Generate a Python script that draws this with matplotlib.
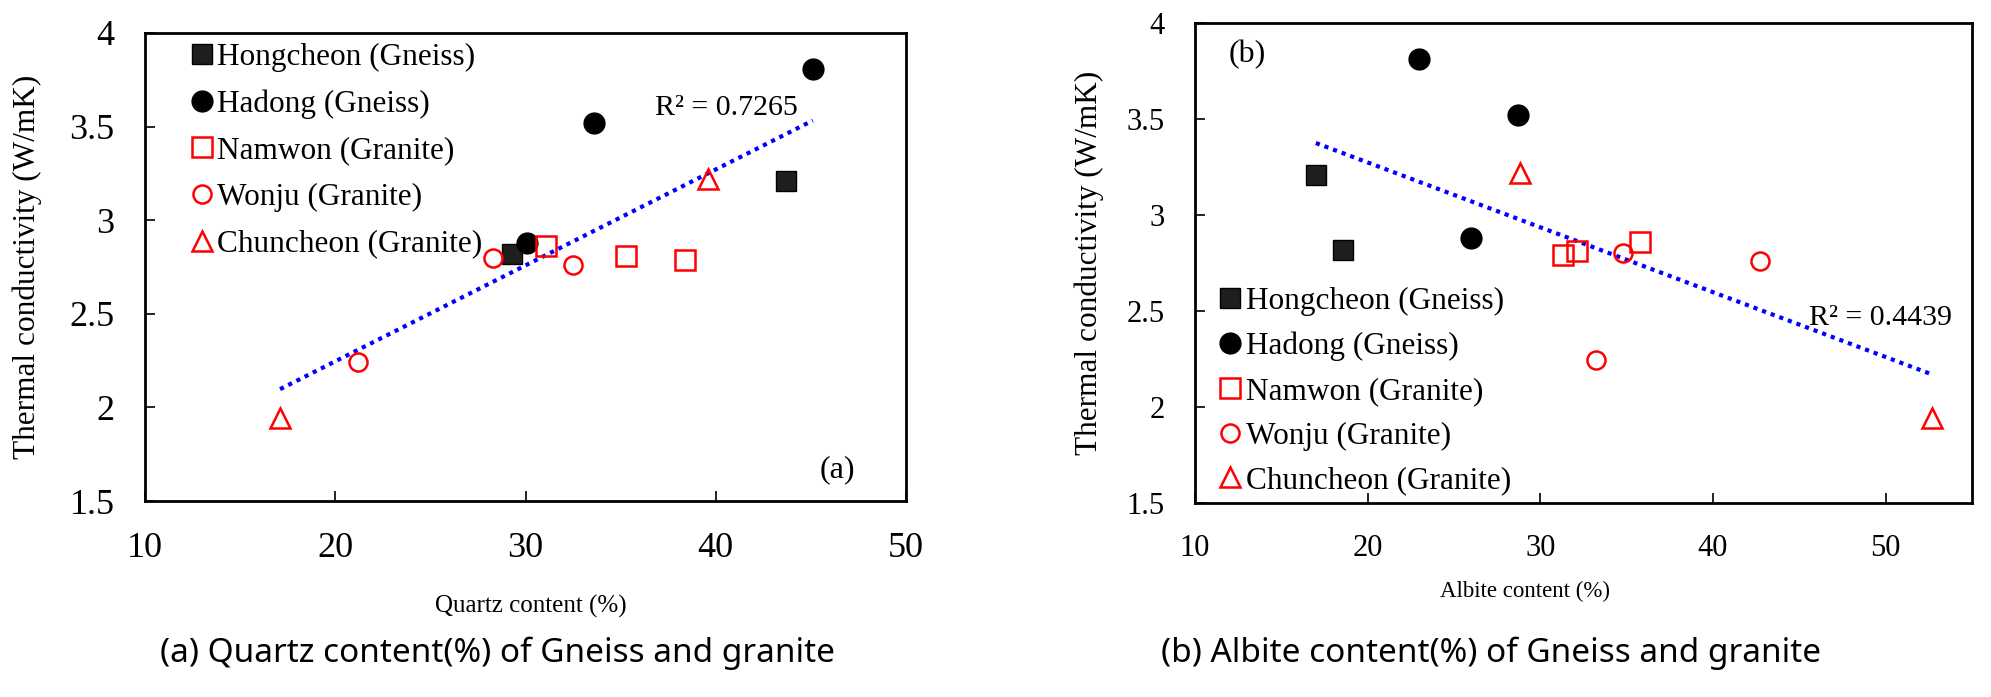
import numpy as np
import matplotlib
matplotlib.use('Agg')
import matplotlib.pyplot as plt
from matplotlib.ticker import FormatStrFormatter

plt.rcParams['font.family'] = 'Liberation Serif'

# thermal conductivity (W/mK) per rock group
hong_k = [2.82, 3.21]
hadong_k = [3.81, 3.52, 2.88]
namwon_k = [2.86, 2.81, 2.79]
wonju_k = [2.245, 2.80, 2.76]
chun_k = [1.945, 3.22]

# quartz content (%)
hong_qz = [29.3, 43.7]
hadong_qz = [45.1, 33.6, 30.1]
namwon_qz = [31.1, 35.3, 38.4]
wonju_qz = [21.2, 28.3, 32.5]
chun_qz = [17.1, 39.6]

# albite content (%)
hong_ab = [18.6, 17.0]
hadong_ab = [23.0, 28.7, 26.0]
namwon_ab = [35.8, 32.1, 31.3]
wonju_ab = [33.2, 34.8, 42.7]
chun_ab = [52.7, 28.8]

labels = ['Hongcheon (Gneiss)', 'Hadong (Gneiss)', 'Namwon (Granite)',
          'Wonju (Granite)', 'Chuncheon (Granite)']
r2_text = ['R² = 0.7265', 'R² = 0.4439']

styles = [
    dict(marker='s', ms=14, mfc='#1e1e1e', mec='black', mew=1),
    dict(marker='o', ms=15, mfc='black', mec='black', mew=1),
    dict(marker='s', ms=14, mfc='none', mec='red', mew=1.8),
    dict(marker='o', ms=13, mfc='none', mec='red', mew=1.8),
    dict(marker='^', ms=14, mfc='none', mec='red', mew=1.8),
]

W, H = 1991, 697
fig = plt.figure(figsize=(W / 100, H / 100), dpi=100)


def px_axes(x0, y0, x1, y1):
    return fig.add_axes([x0 / W, 1 - y1 / H, (x1 - x0) / W, (y1 - y0) / H])


def draw_panel(ax, xs, xlim, tick_fs, legend_anchor, legend_sp, xlabel, xlabel_fs, xlabel_pos,
               ylabel_x, r2, r2_pos, tag, tag_pos):
    ys = [hong_k, hadong_k, namwon_k, wonju_k, chun_k]
    for x, y, lab, st in zip(xs, ys, labels, styles):
        ax.plot(x, y, linestyle='none', label=lab, **st)

    # linear trend line over all samples
    allx = np.concatenate(xs)
    ally = np.concatenate(ys)
    a, b = np.polyfit(allx, ally, 1)
    xx = np.array([allx.min(), allx.max()])
    ax.plot(xx, a * xx + b, color='blue', linestyle=(0, (1, 1.2)), lw=3, zorder=1)

    ax.set_xlim(*xlim)
    ax.set_ylim(1.5, 4)
    ax.set_xticks([10, 20, 30, 40, 50])
    ax.set_yticks(np.arange(1.5, 4.01, 0.5))
    ax.yaxis.set_major_formatter(FormatStrFormatter('%g'))
    ax.tick_params(direction='in', length=7, width=1.2, labelsize=tick_fs, pad=22)
    for s in ax.spines.values():
        s.set_linewidth(2)

    ax.set_xlabel(xlabel, fontsize=xlabel_fs)
    ax.xaxis.set_label_coords(*xlabel_pos)
    ax.set_ylabel('Thermal conductivity (W/mK)', fontsize=22.5)
    ax.yaxis.set_label_coords(ylabel_x, 0.5)

    ax.text(*r2_pos, r2, transform=ax.transAxes, fontsize=21.5, ha='left', va='center')
    ax.text(*tag_pos, tag, transform=ax.transAxes, fontsize=23, ha='left', va='center')

    ax.legend(loc='upper left', bbox_to_anchor=legend_anchor, frameon=False, fontsize=22.5,
              handlelength=0.7, handletextpad=0.15, labelspacing=legend_sp,
              borderpad=0, borderaxespad=0, numpoints=1)


ax1 = px_axes(145, 33, 906, 501)
draw_panel(ax1, [hong_qz, hadong_qz, namwon_qz, wonju_qz, chun_qz], (10, 50), 26,
           (0.06, 0.979), 0.56, 'Quartz content (%)', 18, (0.507, -0.2), -0.135,
           r2_text[0], (0.67, 0.84), '(a)', (0.887, 0.066))

ax2 = px_axes(1195, 23, 1972, 503)
draw_panel(ax2, [hong_ab, hadong_ab, namwon_ab, wonju_ab, chun_ab], (10, 55), 22,
           (0.031, 0.45), 0.5, 'Albite content (%)', 16.5, (0.425, -0.163), -0.117,
           r2_text[1], (0.79, 0.385), '(b)', (0.043, 0.935))

fig.text(497 / W, 1 - 653 / H, '(a) Quartz content(%) of Gneiss and granite',
         fontsize=24, family='Noto Sans', ha='center', va='center')
fig.text(1491 / W, 1 - 653 / H, '(b) Albite content(%) of Gneiss and granite',
         fontsize=24, family='Noto Sans', ha='center', va='center')

fig.savefig('out.png', dpi=100)
